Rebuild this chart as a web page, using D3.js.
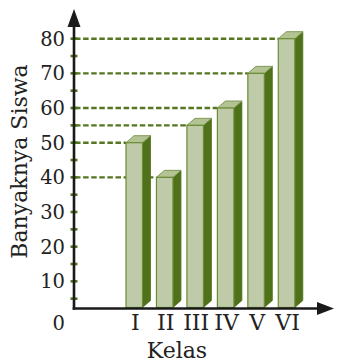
<!DOCTYPE html>
<html><head><meta charset="utf-8">
<script src="https://cdn.jsdelivr.net/npm/d3@7/dist/d3.min.js"></script>
<style>html,body{margin:0;padding:0;background:#fff;}svg{display:block;}</style>
</head><body>
<svg id="c" width="337" height="362"></svg>
<script>
const categories = ["I", "II", "III", "IV", "V", "VI"];
const values = [50, 40, 55, 60, 70, 80];
const yTickLabels = [10, 20, 30, 40, 50, 60, 70, 80];
const yMinorTicks = [5, 10, 15, 20, 25, 30, 35, 40, 45, 50, 55, 60, 65, 70, 75, 80];
const xTitle = "Kelas";
const yTitle = "Banyaknya Siswa";

(function () {
const svg = d3.select("#c");
const font = "'DejaVu Serif', serif";
const axisX = 74, axisY = 308.5;
const y = d3.scaleLinear().domain([0, 80]).range([316, 38.7]);
const x = d3.scaleBand().domain(categories).range([126, 294.8]).paddingInner(0.458).paddingOuter(0).align(0);
const bw = x.bandwidth(), dx = 8, dy = 7;

const frontFill = "#bfcaa8", frontStroke = "#6b8c35", sideFill = "#4f7119", topFill = "#b3c393", topStroke = "#809b56";
const green = "#56761f";
const ink = "#222";

// dashed guide lines
svg.append("g").selectAll("line").data(categories).join("line")
  .attr("x1", axisX + 1).attr("x2", d => x(d))
  .attr("y1", (d, i) => y(values[i])).attr("y2", (d, i) => y(values[i]))
  .attr("stroke", green).attr("stroke-width", 2.4).attr("stroke-dasharray", "5.5,2.6");

// bars
const g = svg.append("g").selectAll("g").data(categories).join("g");
g.append("path").attr("d", (d, i) => {
  const x1 = x(d) + bw, yt = y(values[i]);
  return `M${x1},${yt}L${x1 + dx},${yt - dy}L${x1 + dx},${axisY - 1 - dy}L${x1},${axisY - 1}Z`;
}).attr("fill", sideFill).attr("stroke", sideFill).attr("stroke-width", 0.8);
g.append("path").attr("d", (d, i) => {
  const x0 = x(d), yt = y(values[i]);
  return `M${x0},${yt}L${x0 + dx},${yt - dy}L${x0 + bw + dx},${yt - dy}L${x0 + bw},${yt}Z`;
}).attr("fill", topFill).attr("stroke", topStroke).attr("stroke-width", 1);
g.append("rect")
  .attr("x", d => x(d)).attr("width", bw)
  .attr("y", (d, i) => y(values[i])).attr("height", (d, i) => axisY - 1 - y(values[i]))
  .attr("fill", frontFill).attr("stroke", frontStroke).attr("stroke-width", 1.2);

// y axis ticks (green marks)
svg.append("g").selectAll("line").data(yMinorTicks).join("line")
  .attr("x1", axisX - 3.5).attr("x2", axisX + 3.5)
  .attr("y1", d => y(d)).attr("y2", d => y(d))
  .attr("stroke", green).attr("stroke-width", 2.6);

// axes
svg.append("line").attr("x1", axisX).attr("x2", axisX).attr("y1", 25).attr("y2", axisY + 1.3)
  .attr("stroke", "#1a1a1a").attr("stroke-width", 2.6);
svg.append("path").attr("d", `M${axisX},9L${axisX + 6.5},27L${axisX - 6.5},27Z`).attr("fill", "#1a1a1a");
svg.append("line").attr("x1", axisX - 1.3).attr("x2", 320).attr("y1", axisY).attr("y2", axisY)
  .attr("stroke", "#1a1a1a").attr("stroke-width", 2.6);
svg.append("path").attr("d", `M334,${axisY}L317,${axisY - 6.5}L317,${axisY + 6.5}Z`).attr("fill", "#1a1a1a");

// y tick labels
svg.append("g").selectAll("text").data(yTickLabels).join("text")
  .attr("x", 65).attr("y", d => y(d)).attr("dy", "0.36em")
  .attr("text-anchor", "end").attr("font-family", font).attr("font-size", 19.5).attr("fill", ink)
  .text(d => d);
svg.append("text").attr("x", 65).attr("y", y(0) + 7).attr("dy", "0.36em")
  .attr("text-anchor", "end").attr("font-family", font).attr("font-size", 19.5).attr("fill", ink).text(0);

// x labels
svg.append("g").selectAll("text").data(categories).join("text")
  .attr("x", d => x(d) + bw / 2 + 1).attr("y", 330)
  .attr("text-anchor", "middle").attr("font-family", font).attr("font-size", 22).attr("fill", ink)
  .text(d => d);

svg.append("text").attr("x", 177).attr("y", 358).attr("text-anchor", "middle")
  .attr("font-family", font).attr("font-size", 22).attr("fill", ink).text(xTitle);
svg.append("text").attr("transform", "translate(27,161.5) rotate(-90)").attr("text-anchor", "middle")
  .attr("font-family", font).attr("font-size", 22).attr("fill", ink).text(yTitle);
})();
</script>
</body></html>
